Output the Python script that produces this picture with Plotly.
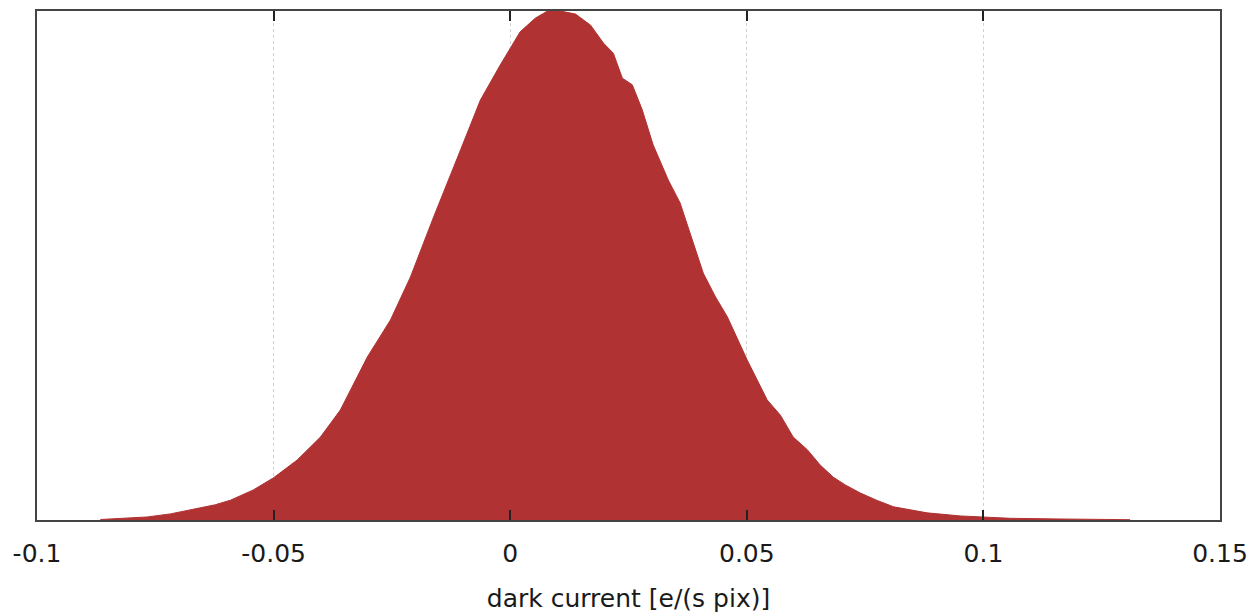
import plotly.graph_objects as go

# Histogram outline of dark current per pixel (relative frequency, peak = 1)
dark_current = [
    -0.0866, -0.0824, -0.0767, -0.0718, -0.0661, -0.0623, -0.0591, -0.0543,
    -0.0500, -0.0450, -0.0401, -0.0359, -0.0302, -0.0253, -0.0211, -0.0162,
    -0.0105, -0.0063, -0.0021, 0.0000, 0.0021, 0.0053, 0.0079, 0.0106,
    0.0138, 0.0170, 0.0197, 0.0218, 0.0237, 0.0258, 0.0279, 0.0302,
    0.0334, 0.0359, 0.0385, 0.0408, 0.0434, 0.0459, 0.0501, 0.0543,
    0.0571, 0.0598, 0.0628, 0.0655, 0.0683, 0.0708, 0.0740, 0.0774,
    0.0810, 0.0881, 0.0951, 0.1000, 0.1057, 0.1162, 0.1232, 0.1310,
]
frequency = [
    0.001, 0.003, 0.006, 0.012, 0.022, 0.030, 0.039, 0.059,
    0.083, 0.118, 0.163, 0.216, 0.320, 0.393, 0.477, 0.595,
    0.727, 0.825, 0.894, 0.927, 0.959, 0.986, 1.000, 1.000,
    0.994, 0.972, 0.937, 0.917, 0.868, 0.855, 0.806, 0.737,
    0.668, 0.623, 0.550, 0.485, 0.438, 0.399, 0.314, 0.236,
    0.206, 0.163, 0.138, 0.108, 0.084, 0.069, 0.053, 0.039,
    0.026, 0.014, 0.008, 0.006, 0.0033, 0.002, 0.0014, 0.0006,
]

x_ticks = [-0.1, -0.05, 0, 0.05, 0.1, 0.15]
x_tick_labels = ["-0.1", "-0.05", "0", "0.05", "0.1", "0.15"]
x_title = "dark current [e/(s pix)]"

fill_color = "#b03232"
frame_color = "#444444"

fig = go.Figure()
fig.add_trace(go.Scatter(
    x=dark_current,
    y=frequency,
    mode="lines",
    fill="tozeroy",
    fillcolor=fill_color,
    line=dict(color=fill_color, width=1),
    hoverinfo="x+y",
))

fig.update_layout(
    width=1256,
    height=613,
    margin=dict(l=37, r=36, t=11, b=93),
    paper_bgcolor="white",
    plot_bgcolor="white",
    showlegend=False,
    font=dict(family="DejaVu Sans", size=25, color="#1a1a1a"),
    xaxis=dict(
        range=[-0.1, 0.15],
        tickvals=x_ticks,
        ticktext=x_tick_labels,
        ticks="inside",
        ticklen=10,
        tickwidth=1.5,
        tickcolor="#222222",
        showline=True,
        linecolor=frame_color,
        linewidth=2,
        mirror="ticks",
        showgrid=True,
        gridcolor="#d0d0d0",
        griddash="dot",
        gridwidth=1,
        zeroline=False,
        automargin=False,
        ticklabelstandoff=10,
        title=dict(text=x_title, font=dict(size=25), standoff=22),
        tickfont=dict(size=25),
    ),
    yaxis=dict(
        range=[0, 1.0],
        showticklabels=False,
        ticks="",
        showline=True,
        linecolor=frame_color,
        linewidth=2,
        mirror=True,
        showgrid=False,
        zeroline=False,
        automargin=False,
    ),
)

fig.write_html("out.html")
